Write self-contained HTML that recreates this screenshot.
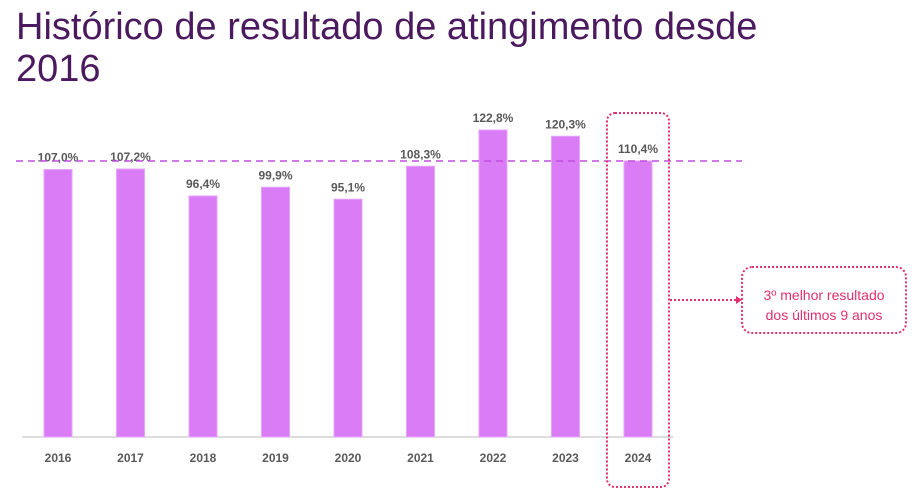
<!DOCTYPE html>
<html><head><meta charset="utf-8"><style>
body{margin:0;width:914px;height:497px;background:#fff;overflow:hidden;font-family:"Liberation Sans",sans-serif}
h1{position:absolute;left:16px;top:6px;margin:0;font-weight:400;font-size:38px;line-height:42px;color:#4b1a5e}
svg{position:absolute;left:0;top:0}
</style></head><body>
<h1>Histórico de resultado de atingimento desde<br>2016</h1>
<svg id="c" width="914" height="497"></svg>
<script>
const years=["2016","2017","2018","2019","2020","2021","2022","2023","2024"];
const values=[107.0,107.2,96.4,99.9,95.1,108.3,122.8,120.3,110.4];
const labels=["107,0%","107,2%","96,4%","99,9%","95,1%","108,3%","122,8%","120,3%","110,4%"];
const refValue=110.4;
const NS="http://www.w3.org/2000/svg",svg=document.getElementById('c');
const y=v=>437-v*2.5, x=i=>58+i*72.5;
function mk(t,a){const e=document.createElementNS(NS,t);for(const k in a)e.setAttribute(k,a[k]);svg.appendChild(e);return e;}
let e=mk('line',{x1:22,x2:673,y1:437,y2:437,stroke:'#bbb','stroke-width':1});

values.forEach((v,i)=>{
 let b=mk('rect',{x:x(i)-14,y:y(v),width:28,height:437-y(v),fill:'#d97cf5',stroke:'#e6a3fa','stroke-width':1});
 
 let t=mk('text',{x:x(i),y:y(v)-8,'text-anchor':'middle','font-size':12,'font-weight':'bold',fill:'#595959'});t.textContent=labels[i];
 
 let yl=mk('text',{x:x(i),y:462,'text-anchor':'middle','font-size':12,'font-weight':'bold',fill:'#595959'});yl.textContent=years[i];
 
});
e=mk('line',{x1:16,x2:742,y1:y(refValue),y2:y(refValue),stroke:'#c04fe0','stroke-width':1.5,'stroke-dasharray':'7,5'});

e=mk('rect',{x:607,y:113,width:62,height:374,rx:8,fill:'none',stroke:'#e0306e','stroke-width':2,'stroke-dasharray':'2,2'});

e=mk('line',{x1:670,x2:737,y1:300,y2:300,stroke:'#e0306e','stroke-width':2,'stroke-dasharray':'2,2'});

e=mk('path',{d:'M736 296 L742 300 L736 304Z',fill:'#e0306e'});

e=mk('rect',{x:742,y:267,width:164,height:66,rx:10,fill:'none',stroke:'#e0306e','stroke-width':2,'stroke-dasharray':'2,2'});

[["3º melhor resultado",296],["dos últimos 9 anos",316]].forEach((l,i)=>{
 let t=mk('text',{x:824,y:l[1]+4,'text-anchor':'middle','font-size':14,fill:'#e0306e'});t.textContent=l[0];
 
});
</script>
</body></html>
